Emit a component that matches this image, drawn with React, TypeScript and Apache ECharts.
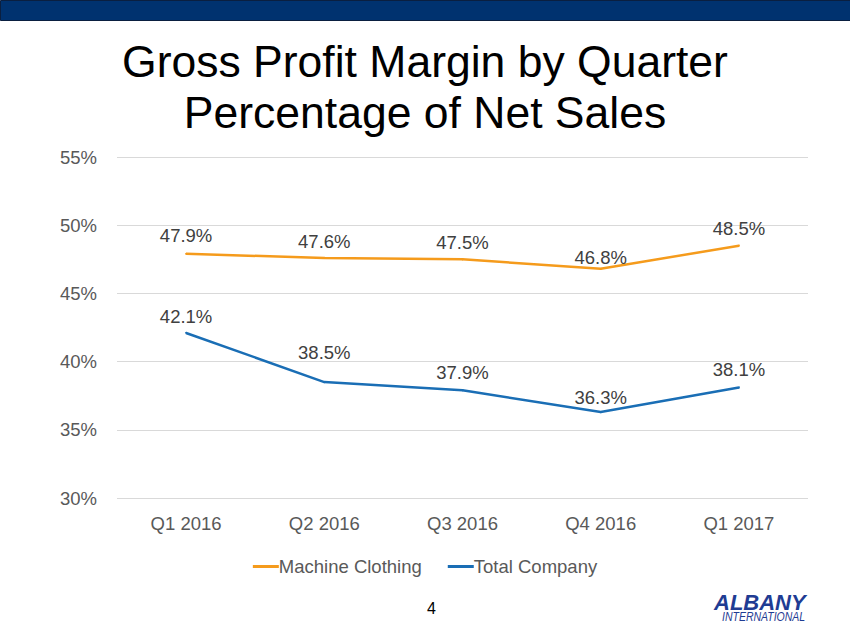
import React, { useEffect, useRef } from "react";
import * as echarts from "echarts";

const categories = ["Q1 2016", "Q2 2016", "Q3 2016", "Q4 2016", "Q1 2017"];
const machineClothing = [47.9, 47.6, 47.5, 46.8, 48.5];
const totalCompany = [42.1, 38.5, 37.9, 36.3, 38.1];
const titleLines = ["Gross Profit Margin by Quarter", "Percentage of Net Sales"];
const pageNumber = "4";

const FONT = "Liberation Sans, Arial, sans-serif";
const FS = 18.5;

export default function App() {
  const ref = useRef<HTMLDivElement>(null);
  useEffect(() => {
    document.body.style.margin = "0";
    const chart = echarts.init(ref.current!, null, { renderer: "svg" });
    const labelStyle = {
      show: true,
      position: "top" as const,
      distance: 8,
      fontSize: FS,
      color: "#404040",
      fontFamily: FONT,
      formatter: (p: any) => Number(p.value).toFixed(1) + "%",
    };
    const distMC = [8, 6, 6, 1, 7];
    const distTC = [6, 19, 7, 4, 8];
    chart.setOption({
      animation: false,
      backgroundColor: "#ffffff",
      title: {
        text: titleLines.join("\n"),
        left: "center",
        top: 31,
        textStyle: { fontSize: 44.5, lineHeight: 51, color: "#000000", fontWeight: "normal", fontFamily: FONT },
      },
      legend: {
        top: 552,
        left: "center",
        itemWidth: 26,
        itemHeight: 3,
        itemGap: 26,
        icon: "rect",
        textStyle: { fontSize: FS, color: "#595959", fontFamily: FONT, padding: [0, 0, 0, -5] },
        data: ["Machine Clothing", "Total Company"],
      },
      grid: { left: 117, right: 42, top: 157, bottom: 140, containLabel: false },
      xAxis: {
        type: "category",
        data: categories,
        boundaryGap: true,
        axisLine: { show: false },
        axisTick: { show: false },
        axisLabel: { fontSize: FS, color: "#595959", fontFamily: FONT, margin: 16 },
      },
      yAxis: {
        type: "value",
        min: 30,
        max: 55,
        interval: 5,
        axisLine: { show: false },
        axisTick: { show: false },
        splitLine: { lineStyle: { color: "#d9d9d9", width: 1 } },
        axisLabel: { fontSize: FS, color: "#595959", fontFamily: FONT, margin: 20, formatter: "{value}%" },
      },
      series: [
        {
          name: "Machine Clothing",
          type: "line",
          data: machineClothing.map((v, i) => ({ value: v, label: { distance: distMC[i] } })),
          symbol: "circle",
          symbolSize: 2,
          showSymbol: true,
          lineStyle: { color: "#F59B1C", width: 2.5 },
          itemStyle: { color: "#F59B1C" },
          label: labelStyle,
        },
        {
          name: "Total Company",
          type: "line",
          data: totalCompany.map((v, i) => ({ value: v, label: { distance: distTC[i] } })),
          symbol: "circle",
          symbolSize: 2,
          showSymbol: true,
          lineStyle: { color: "#1A6EB5", width: 2.5 },
          itemStyle: { color: "#1A6EB5" },
          label: labelStyle,
        },
      ],
      graphic: [
        { type: "rect", left: 0, top: 0, shape: { width: 850, height: 20 }, style: { fill: "#00326F", stroke: "#0a1f40", lineWidth: 1 } },
        { type: "text", left: 427, top: 600, style: { text: pageNumber, fontSize: 16, fill: "#000", fontFamily: FONT } },
        { type: "text", x: 714, y: 591, style: { text: "ALBANY", fontSize: 22, fontWeight: "bold", fontStyle: "italic", fill: "#1F3C93", fontFamily: FONT } },
        { type: "text", x: 722, y: 610, scaleY: 1.2, style: { text: "INTERNATIONAL", fontSize: 10.5, fontStyle: "italic", fill: "#1F3C93", fontFamily: FONT } },
      ],
    });
    return () => chart.dispose();
  }, []);
  return <div ref={ref} style={{ width: 850, height: 638 }} />;
}
